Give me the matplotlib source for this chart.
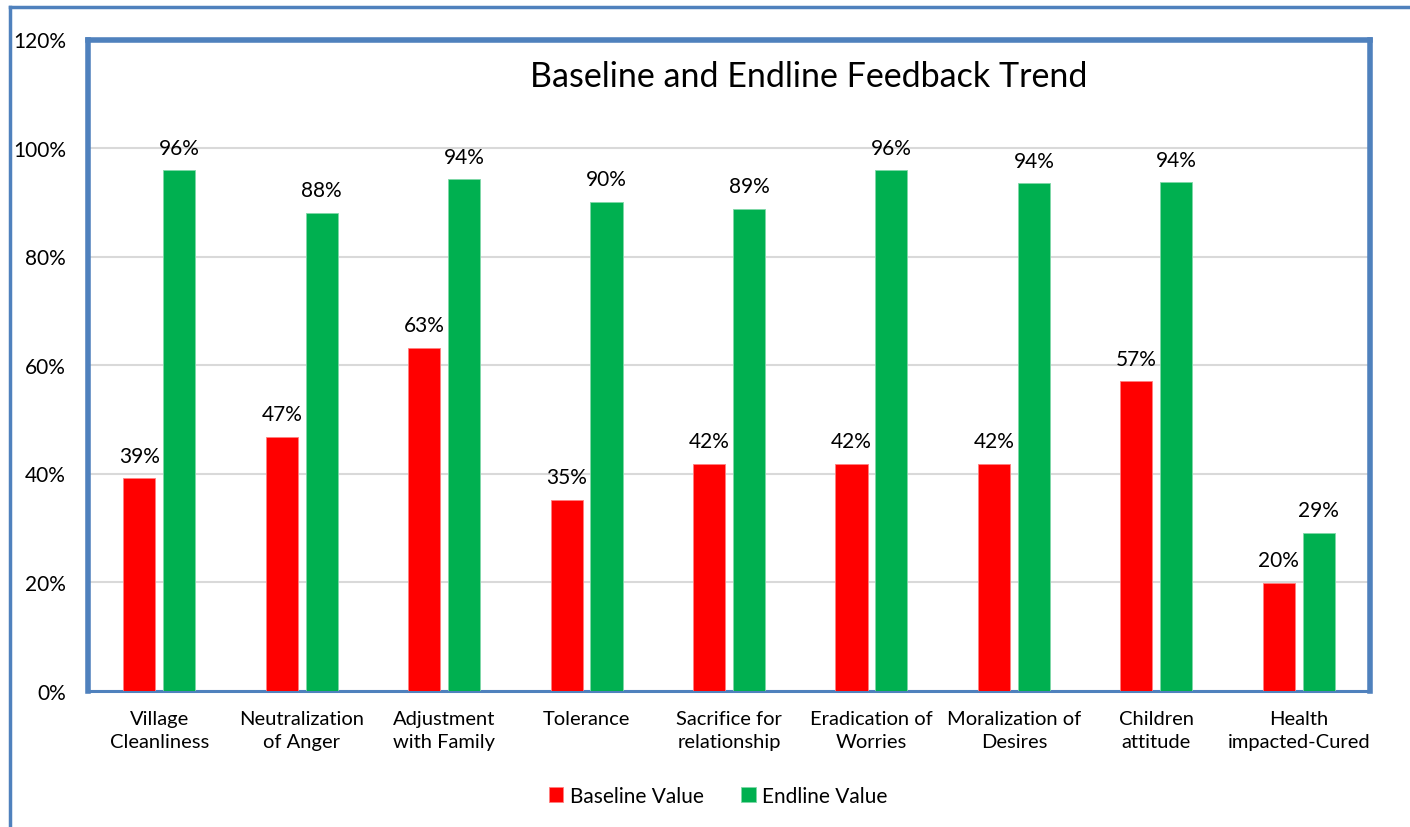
import numpy as np
import matplotlib
matplotlib.use("Agg")
import matplotlib.pyplot as plt
from matplotlib.lines import Line2D

plt.rcParams['font.family'] = ['Lato', 'DejaVu Sans']

categories = ["Village\nCleanliness", "Neutralization\nof Anger", "Adjustment\nwith Family",
              "Tolerance", "Sacrifice for\nrelationship", "Eradication of\nWorries",
              "Moralization of\nDesires", "Children\nattitude", "Health\nimpacted-Cured"]
baseline = [39.1, 46.8, 63.2, 35.1, 41.8, 41.8, 41.8, 57.0, 19.9]
endline = [95.9, 88.0, 94.2, 90.1, 88.8, 95.9, 93.5, 93.7, 29.1]
yticks = [0, 20, 40, 60, 80, 100, 120]

blue = "#4F81BD"
red = "#FF0000"
green = "#00B050"

fig = plt.figure(figsize=(14.1, 8.28), dpi=100)
ax = fig.add_axes([88/1410, 1 - 691.5/828, (1370-88)/1410, (691.5-40.5)/828])

x = np.arange(len(categories))
w = 0.225
b1 = ax.bar(x - 0.14, baseline, w, color=red, edgecolor="#FF8080", linewidth=0.6,
            label="Baseline Value", zorder=3)
b2 = ax.bar(x + 0.14, endline, w, color=green, edgecolor="#80D8A8", linewidth=0.6,
            label="Endline Value", zorder=3)

for bars, vals in [(b1, baseline), (b2, endline)]:
    for r, v in zip(bars, vals):
        ax.annotate(f"{v:.0f}%", (r.get_x() + r.get_width()/2, v),
                    xytext=(0, 12), textcoords="offset points",
                    ha="center", va="baseline", fontsize=15, color="black")

ax.set_xlim(-0.5, len(categories) - 0.5)
ax.set_ylim(0, 120)
ax.set_yticks(yticks)
ax.set_yticklabels([f"{t}%" for t in yticks], fontsize=15)
ax.set_xticks(x)
ax.set_xticklabels(categories, fontsize=14.5, linespacing=1.4)
ax.tick_params(axis="both", length=0)
ax.tick_params(axis="y", pad=16)
ax.tick_params(axis="x", pad=14)
ax.yaxis.grid(True, color="#D9D9D9", linewidth=1.5, zorder=0)
ax.set_axisbelow(True)

for s in ["left", "top", "right"]:
    ax.spines[s].set_color(blue)
    ax.spines[s].set_linewidth(4)
ax.spines["bottom"].set_color(blue)
ax.spines["bottom"].set_linewidth(2.2)

fig.text(809/1410, 1 - 77/828, "Baseline and Endline Feedback Trend",
         ha="center", va="center", fontsize=24.5)

fig.legend(handles=[b1, b2], loc="center", bbox_to_anchor=(718/1410, 1 - 797/828),
           ncol=2, frameon=False, fontsize=15, handlelength=0.7, handleheight=0.7,
           handletextpad=0.3, columnspacing=1.8)

# outer frame lines
fig.add_artist(Line2D([10/1410, 10/1410], [0, 1 - 8/828], transform=fig.transFigure,
                      color=blue, linewidth=2.5))
fig.add_artist(Line2D([10/1410, 1], [1 - 8/828, 1 - 8/828], transform=fig.transFigure,
                      color=blue, linewidth=2.5))

fig.savefig("out.png", dpi=100, facecolor="white")
